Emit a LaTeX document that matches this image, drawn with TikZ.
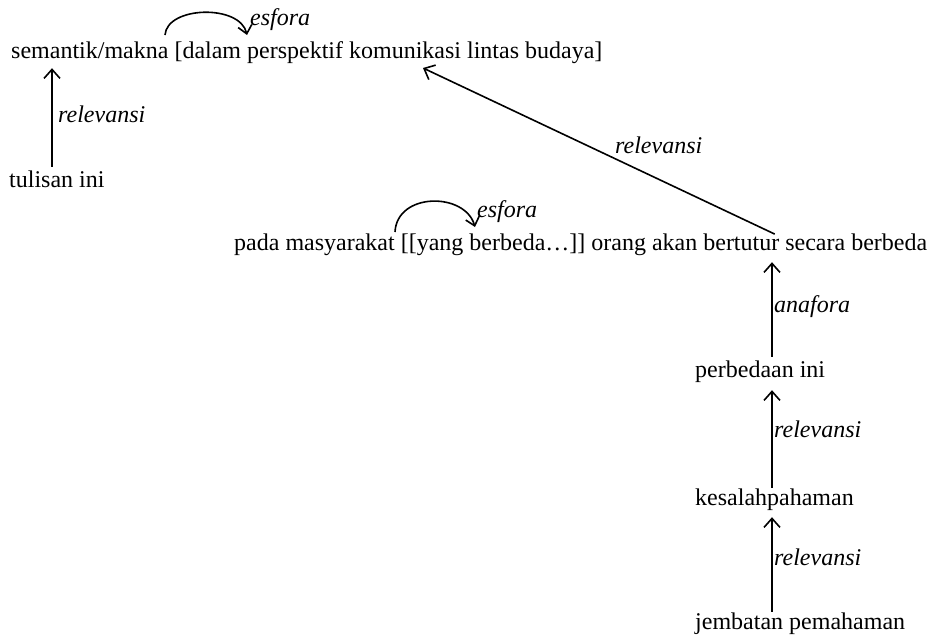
\documentclass[tikz,border=0pt]{standalone}
\usepackage{fontspec}
\setmainfont{Liberation Serif}
\usetikzlibrary{arrows.meta}
\begin{document}
\begin{tikzpicture}[x=1pt,y=-1pt,
  every node/.style={inner sep=0pt, anchor=base west, text height=17pt, text depth=5pt,
    font=\fontsize{24}{28}\selectfont},
  lbl/.style={font=\fontsize{24}{28}\selectfont\itshape},
  arr/.style={line width=1.6pt, -{Straight Barb[length=9pt,width=16pt,line width=1.6pt]}},
  arc/.style={line width=1.6pt, -{Straight Barb[length=8pt,width=14pt,line width=1.6pt]}}]
  \useasboundingbox (0,0) rectangle (938,640);

  % text units
  \node (sem) at (11,58) {semantik/makna [dalam perspektif komunikasi lintas budaya]};
  \node (tul) at (9,187) {tulisan ini};
  \node (pad) at (234,250) {pada masyarakat [[yang berbeda…]] orang akan bertutur secara berbeda};
  \node (per) at (695,377) {perbedaan ini};
  \node (kes) at (695,505) {kesalahpahaman};
  \node (jem) at (695,629) {jembatan pemahaman};

  % vertical spines of the arrows
  \coordinate (lspine) at (52,0);
  \coordinate (rspine) at (772,0);

  % relation arrows
  \draw[arr, shorten <=3pt, shorten >=5pt] (tul.north -| lspine) -- (sem.south -| lspine);
  \node[lbl] (rl1) at (58,122) {relevansi};
  \draw[arr, shorten <=-3pt] (pad.north -| rspine) -- ([shift={(412,10)}]sem.base west);
  \node[lbl] (rl2) at (615,153) {relevansi};
  \draw[arr, shorten <=3pt, shorten >=7pt] (per.north -| rspine) -- (pad.south -| rspine);
  \node[lbl] (ana) at (774,312) {anafora};
  \draw[arr, shorten >=8pt] (kes.north -| rspine) -- (per.south -| rspine);
  \node[lbl] (rl3) at (774,437) {relevansi};
  \draw[arr, shorten >=7pt] (jem.north -| rspine) -- (kes.south -| rspine);
  \node[lbl] (rl4) at (774,565) {relevansi};

  % esfora arcs inside the sentences
  \coordinate (e1a) at ([shift={(154,-23)}]sem.base west);
  \coordinate (e1b) at ([shift={(236,-23)}]sem.base west);
  \draw[arc] (e1a) .. controls (167,6) and (240,4) .. (e1b);
  \node[lbl] (es1) at (250,25) {esfora};

  \coordinate (e2a) at ([shift={(161,-18)}]pad.base west);
  \coordinate (e2b) at ([shift={(241,-23)}]pad.base west);
  \draw[arc] (e2a) .. controls (397,192) and (465,192) .. (e2b);
  \node[lbl] (es2) at (477,217) {esfora};
\end{tikzpicture}
\end{document}
